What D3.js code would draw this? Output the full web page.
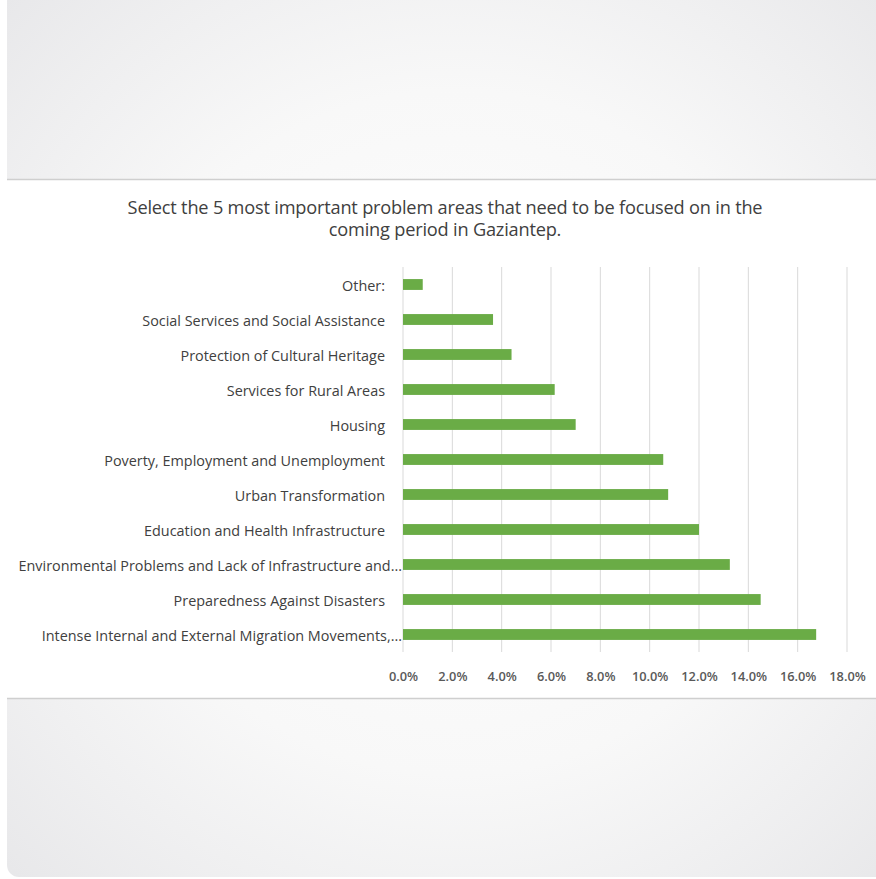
<!DOCTYPE html>
<html>
<head>
<meta charset="utf-8">
<script src="https://cdn.jsdelivr.net/npm/d3@7"></script>
<style>
  html, body { margin: 0; padding: 0; background: #ffffff; }
  svg { display: block; }
</style>
</head>
<body>
<div id="chart"></div>
<script>
// categories listed top to bottom, values in percent
const categories = [
    "Other:",
    "Social Services and Social Assistance",
    "Protection of Cultural Heritage",
    "Services for Rural Areas",
    "Housing",
    "Poverty, Employment and Unemployment",
    "Urban Transformation",
    "Education and Health Infrastructure",
    "Environmental Problems and Lack of Infrastructure and...",
    "Preparedness Against Disasters",
    "Intense Internal and External Migration Movements,..."
];
const values = [0.8, 3.65, 4.4, 6.15, 7.0, 10.55, 10.75, 12.0, 13.25, 14.5, 16.75];
const xTicks = [0, 2, 4, 6, 8, 10, 12, 14, 16, 18];
const titleLines = [
    "Select the 5 most important problem areas that need to be focused on in the",
    "coming period in Gaziantep."
];

function drawChart() {
    const W = 876, H = 879;
    const svg = d3.select("#chart")
        .append("svg")
        .attr("width", W)
        .attr("height", H);

    const defs = svg.append("defs");
    const grad = defs.append("radialGradient")
        .attr("id", "bg")
        .attr("cx", "50%").attr("cy", "50%").attr("r", "70%");
    grad.append("stop").attr("offset", "0%").attr("stop-color", "#ffffff");
    grad.append("stop").attr("offset", "55%").attr("stop-color", "#f8f8f8");
    grad.append("stop").attr("offset", "100%").attr("stop-color", "#e8e8ea");

    // card background
    svg.append("rect")
        .attr("x", 7).attr("y", -12)
        .attr("width", W + 20).attr("height", H + 10)
        .attr("rx", 12)
        .attr("fill", "url(#bg)");

    // white panel
    svg.append("rect")
        .attr("x", 7).attr("y", 180)
        .attr("width", W - 7).attr("height", 518)
        .attr("fill", "#ffffff");
    svg.append("line")
        .attr("x1", 7).attr("x2", W).attr("y1", 179.5).attr("y2", 179.5)
        .attr("stroke", "#cfcfcf").attr("stroke-width", 1.5);
    svg.append("line")
        .attr("x1", 7).attr("x2", W).attr("y1", 698.5).attr("y2", 698.5)
        .attr("stroke", "#cfcfcf").attr("stroke-width", 1.5);

    // title
    svg.append("text")
        .attr("x", 445)
        .attr("y", 214)
        .attr("text-anchor", "middle")
        .attr("fill", "#404040")
        .style("font-family", "'Open Sans', sans-serif")
        .style("font-size", "18.2px")
        .style("letter-spacing", "-0.2px")
        .selectAll("tspan")
        .data(titleLines)
        .join("tspan")
        .attr("x", 445)
        .attr("dy", (d, i) => i === 0 ? 0 : 22)
        .text(d => d);

    const x = d3.scaleLinear().domain([0, 18]).range([403, 847]);
    const y = d3.scaleBand()
        .domain(categories)
        .range([267, 652])
        .paddingInner(0.69)
        .paddingOuter(0.345);

    // gridlines
    svg.append("g")
        .selectAll("line")
        .data(xTicks)
        .join("line")
        .attr("x1", d => x(d)).attr("x2", d => x(d))
        .attr("y1", 267).attr("y2", 652)
        .attr("stroke", "#d9d9d9")
        .attr("stroke-width", 1);

    // bars
    svg.append("g")
        .selectAll("rect")
        .data(values)
        .join("rect")
        .attr("x", x(0))
        .attr("y", (d, i) => y(categories[i]))
        .attr("width", d => x(d) - x(0))
        .attr("height", y.bandwidth())
        .attr("fill", "#6aac46");

    // x axis labels
    const xAxis = svg.append("g")
        .attr("transform", "translate(0,652)")
        .call(d3.axisBottom(x).tickValues(xTicks).tickSize(0).tickPadding(20).tickFormat(d => d.toFixed(1) + "%"));
    xAxis.select(".domain").remove();
    xAxis.selectAll("text")
        .attr("fill", "#595959")
        .style("font-family", "'Open Sans', sans-serif")
        .style("font-size", "12.8px")
        .style("font-weight", "600");

    // category labels
    svg.append("g")
        .selectAll("text")
        .data(categories)
        .join("text")
        .attr("x", d => d.endsWith("...") ? 402 : 385)
        .attr("y", d => y(d) + y.bandwidth() / 2 + 1)
        .attr("dy", "0.35em")
        .attr("text-anchor", "end")
        .attr("fill", "#404040")
        .style("font-family", "'Open Sans', sans-serif")
        .style("font-size", "14.4px")
        .text(d => d);
}

drawChart();
</script>
</body>
</html>
